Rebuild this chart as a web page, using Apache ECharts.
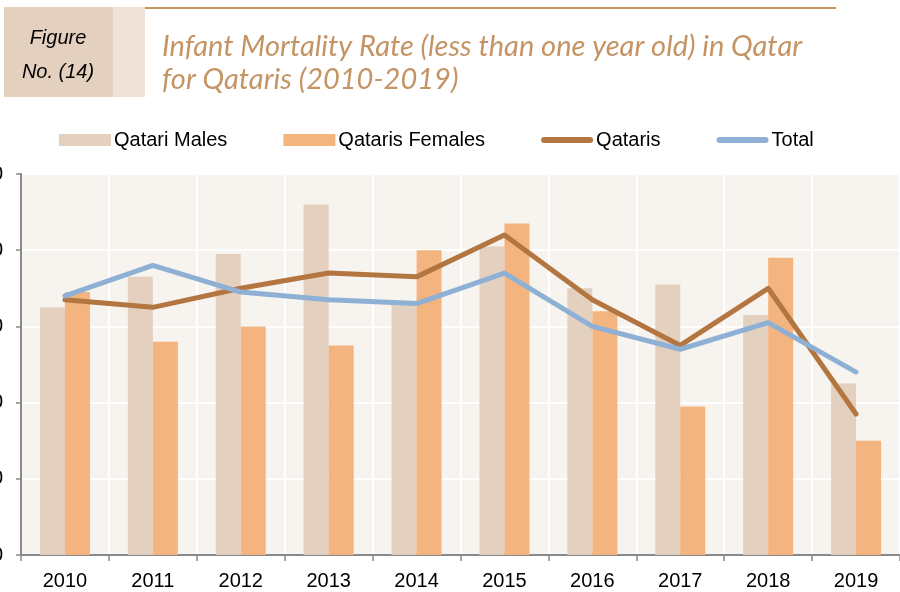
<!DOCTYPE html>
<html>
<head>
<meta charset="utf-8">
<script src="https://cdn.jsdelivr.net/npm/echarts@6/dist/echarts.min.js"></script>
<style>
  html, body { margin: 0; padding: 0; background: #fff; }
  #chart { width: 900px; height: 592px; }
</style>
</head>
<body>
<div id="chart"></div>
<script>
const years = ['2010', '2011', '2012', '2013', '2014', '2015', '2016', '2017', '2018', '2019'];
const qatariMales = [6.5, 7.3, 7.9, 9.2, 6.6, 8.1, 7.0, 7.1, 6.3, 4.5];
const qatariFemales = [6.9, 5.6, 6.0, 5.5, 8.0, 8.7, 6.4, 3.9, 7.8, 3.0];
const qataris = [6.7, 6.5, 7.0, 7.4, 7.3, 8.4, 6.7, 5.5, 7.0, 3.7];
const total = [6.8, 7.6, 6.9, 6.7, 6.6, 7.4, 6.0, 5.4, 6.1, 4.8];

const chart = echarts.init(document.getElementById('chart'));

// thick rounded bar used as the legend icon of the two lines
const lineIcon = 'path://M3,0 L49,0 A3,3 0 0 1 49,6 L3,6 A3,3 0 0 1 3,0 Z';

const option = {
  animation: false,
  textStyle: { fontFamily: 'Liberation Sans, Arial, sans-serif' },
  title: {
    text: 'Infant Mortality Rate (less than one year old) in Qatar\nfor Qataris (2010-2019)',
    left: 157,
    top: 25,
    textStyle: {
      color: '#C49464',
      fontFamily: 'Lato',
      fontStyle: 'italic',
      fontWeight: 'normal',
      fontSize: 29,
      lineHeight: 33
    }
  },
  graphic: [
    { type: 'rect', shape: { x: 4, y: 7, width: 109, height: 90 }, style: { fill: '#E4D0BE' } },
    { type: 'rect', shape: { x: 113, y: 7, width: 32, height: 90 }, style: { fill: '#F0E2D6' } },
    { type: 'rect', shape: { x: 145, y: 7, width: 691, height: 2 }, style: { fill: '#C4955F' } },
    {
      type: 'text', x: 58, y: 55,
      style: {
        text: 'Figure\nNo. (14)', fill: '#000', align: 'center', verticalAlign: 'middle',
        font: 'italic 20px Liberation Sans', lineHeight: 34
      }
    }
  ],
  legend: {
    top: 125,
    left: 54,
    itemWidth: 52,
    itemHeight: 12,
    itemGap: 56,
    textStyle: { fontSize: 20, color: '#000', padding: [0, 0, 0, -2] },
    data: [
      { name: 'Qatari Males', icon: 'rect' },
      { name: 'Qataris Females', icon: 'rect' },
      { name: 'Qataris', icon: lineIcon },
      { name: 'Total', icon: lineIcon }
    ]
  },
  grid: {
    left: 21,
    right: 0,
    top: 174,
    bottom: 37,
    containLabel: false,
    outerBoundsMode: 'none',
    show: true,
    backgroundColor: '#F7F3EE',
    borderWidth: 0
  },
  xAxis: {
    type: 'category',
    data: years,
    axisLine: { lineStyle: { color: '#898989', width: 2 } },
    axisTick: { show: true, length: 6, lineStyle: { color: '#898989', width: 1.5 } },
    axisLabel: { color: '#000', fontSize: 20, margin: 16 },
    splitLine: { show: true, lineStyle: { color: '#FFFFFF', width: 2 } }
  },
  yAxis: {
    type: 'value',
    min: 0,
    max: 10,
    interval: 2,
    axisLine: { show: true, lineStyle: { color: '#898989', width: 2 } },
    axisTick: { show: true, length: 5, lineStyle: { color: '#898989', width: 1.5 } },
    axisLabel: { color: '#000', fontSize: 20, margin: 18, formatter: v => v.toFixed(1) },
    splitLine: { show: true, lineStyle: { color: '#FFFFFF', width: 2 } }
  },
  series: [
    {
      name: 'Qatari Males',
      type: 'bar',
      data: qatariMales,
      barWidth: 25,
      barGap: '0%',
      itemStyle: { color: '#E4D0BE' }
    },
    {
      name: 'Qataris Females',
      type: 'bar',
      data: qatariFemales,
      barWidth: 25,
      itemStyle: { color: '#F3B47F' }
    },
    {
      name: 'Qataris',
      type: 'line',
      data: qataris,
      showSymbol: false,
      symbol: 'none',
      lineStyle: { color: '#B37640', width: 5, cap: 'round', join: 'round' },
      itemStyle: { color: '#B37640' },
      z: 3
    },
    {
      name: 'Total',
      type: 'line',
      data: total,
      showSymbol: false,
      symbol: 'none',
      lineStyle: { color: '#8FB0D5', width: 5, cap: 'round', join: 'round' },
      itemStyle: { color: '#8FB0D5' },
      z: 3
    }
  ]
};

chart.setOption(option);
</script>
</body>
</html>
